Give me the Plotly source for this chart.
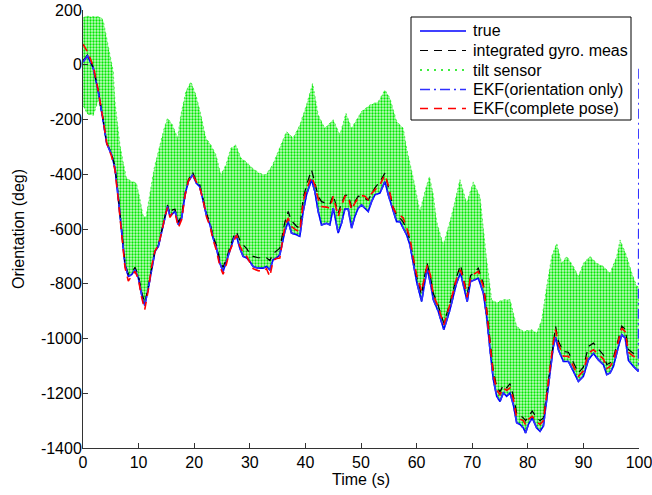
import plotly.graph_objects as go

# ---------------- data ----------------
t_s = [0.0, 0.8, 1.85, 2.75, 3.65, 4.25, 5.15, 5.75, 6.35, 6.95, 7.55, 8.15, 8.75, 9.35, 9.95,
       10.55, 11.1, 11.75, 12.35, 12.95, 13.55, 14.15, 14.75, 15.2, 15.65, 16.1, 16.55, 17.15, 17.75,
       18.35, 18.95, 19.7, 20.4, 21.0, 21.6, 22.25, 22.85, 23.4, 24.0, 24.6, 25.2, 25.8, 26.4, 27.15,
       27.6, 28.2, 28.8, 29.45, 30.0, 30.6, 31.5, 32.4, 33.0, 33.6, 34.2, 34.8, 35.4, 36.3, 36.9,
       37.5, 38.4, 39.0, 39.6, 40.2, 41.1, 41.7, 42.3, 42.9, 43.8, 44.4, 45.0, 45.6, 45.9, 46.5,
       47.1, 47.7, 48.3, 48.9, 49.5, 50.1, 50.7, 51.3, 51.9, 52.5, 53.4, 54.3, 54.9, 55.8, 56.4,
       57.0, 57.6, 58.2, 58.8, 59.4, 60.0, 60.9, 61.3, 61.9, 62.5, 63.0, 63.9, 64.9, 66.0, 67.2,
       67.9, 68.6, 69.1, 69.7, 70.3, 71.1, 72.0, 72.6, 73.2, 73.8, 74.4, 75.0, 75.6, 76.2, 76.8,
       77.4, 78.0, 78.6, 79.2, 79.6, 80.1, 80.8, 81.6, 82.2, 82.8, 83.4, 84.0, 84.6, 85.0, 85.5,
       86.4, 87.3, 88.2, 89.1, 90.0, 90.9, 91.8, 92.7, 93.6, 94.2, 94.8, 95.4, 96.3, 96.9, 97.5,
       98.1, 99.0, 99.9]

true_deg = [10, 33, -13, -98, -208, -287, -329, -378, -487, -621, -731, -773, -767, -749, -779,
            -840, -880, -816, -743, -682, -664, -609, -548, -518, -554, -545, -535, -585, -560,
            -475, -427, -402, -433, -445, -500, -554, -585, -633, -670, -724, -755, -719, -682, -633,
            -625, -670, -700, -706, -719, -737, -743, -743, -737, -749, -712, -706, -694, -609, -573,
            -615, -621, -627, -536, -475, -420, -463, -536, -585, -579, -585, -524, -579, -615, -579,
            -527, -527, -597, -554, -524, -512, -524, -536, -500, -475, -469, -427, -475, -536, -573,
            -573, -597, -621, -658, -731, -792, -865, -810, -745, -800, -858, -901, -968, -895, -797,
            -761, -816, -865, -792, -786, -780, -834, -919, -1041, -1150, -1211, -1230, -1199, -1211, -1199,
            -1242, -1308, -1314, -1327, -1345, -1314, -1290, -1327, -1339, -1320, -1223, -1126, -1029, -995, -1041,
            -1084, -1084, -1120, -1157, -1138, -1078, -1055, -1078, -1096, -1132, -1126, -1102, -1029, -986, -998,
            -1080, -1102, -1120]

gyro_deg = [15, 35, -10, -95, -205, -285, -325, -372, -480, -612, -725, -765, -758, -740, -768,
            -830, -870, -810, -738, -678, -660, -605, -542, -512, -545, -530, -528, -575, -550,
            -470, -420, -392, -425, -438, -490, -545, -578, -625, -660, -712, -740, -708, -668, -625,
            -610, -640, -658, -672, -690, -700, -705, -706, -705, -715, -690, -680, -670, -575, -536,
            -570, -590, -597, -487, -440, -384, -430, -480, -500, -505, -510, -475, -520, -542, -505,
            -478, -475, -520, -500, -480, -482, -490, -495, -470, -450, -427, -396, -445, -520, -550,
            -560, -575, -600, -640, -710, -775, -840, -785, -725, -775, -835, -880, -945, -870, -775,
            -731, -795, -840, -770, -760, -743, -800, -890, -1010, -1120, -1175, -1195, -1170, -1180, -1165,
            -1210, -1272, -1280, -1290, -1300, -1285, -1265, -1290, -1300, -1290, -1195, -1100, -1000, -956, -1010,
            -1047, -1050, -1085, -1125, -1105, -1029, -1017, -1040, -1060, -1095, -1090, -1070, -995, -955, -965,
            -1040, -1055, -1041]

ekf_pose_deg = [75, 48, -5, -95, -205, -285, -335, -385, -495, -630, -740, -790, -772, -755, -782,
                -850, -895, -822, -735, -680, -660, -612, -552, -522, -558, -540, -540, -595, -565,
                -478, -425, -400, -428, -448, -495, -558, -590, -640, -678, -735, -765, -728, -680, -640,
                -622, -662, -685, -700, -722, -745, -752, -755, -745, -774, -715, -708, -706, -590, -560,
                -591, -605, -609, -500, -455, -408, -440, -490, -518, -520, -524, -481, -530, -554, -515,
                -481, -481, -530, -505, -487, -478, -480, -493, -470, -457, -439, -402, -440, -525, -545,
                -550, -560, -595, -633, -705, -767, -828, -790, -731, -770, -840, -885, -950, -875, -780,
                -749, -800, -850, -775, -765, -755, -810, -900, -1020, -1130, -1187, -1205, -1180, -1190, -1180,
                -1220, -1290, -1296, -1300, -1315, -1295, -1284, -1305, -1314, -1300, -1205, -1108, -1010, -968, -1020,
                -1065, -1065, -1102, -1138, -1118, -1053, -1041, -1058, -1075, -1110, -1102, -1082, -1005, -962, -975,
                -1050, -1065, -1071]

# EKF (orientation only) lies on top of the true curve, then jumps at t = 100 s
ekf_orient_t = t_s + [100.0]
ekf_orient_deg = true_deg + [-10]

# tilt sensor: extent of the dense noisy band (upper edge, lower edge)
tilt_up_t = [0.0, 0.5, 1.5, 2.5, 3.3, 3.65, 4.25, 4.85, 5.45, 5.75, 6.65, 7.2, 7.8, 8.7, 9.6,
             10.2, 10.75, 11.3, 11.9, 12.8, 13.7, 14.6, 15.2, 16.1, 17.0, 17.6, 18.5, 19.4, 20.3,
             21.2, 22.1, 23.0, 23.9, 24.8, 25.7, 26.6, 27.5, 28.4, 29.3, 30.5, 31.7, 32.9, 34.1,
             35.4, 36.6, 37.8, 39.0, 40.2, 41.3, 42.3, 43.5, 45.0, 46.2, 47.3, 48.3, 50.1, 51.6,
             53.1, 54.3, 55.2, 56.4, 57.6, 58.2, 59.4, 60.6, 61.5, 62.3, 63.0, 63.6, 64.8, 66.3,
             67.8, 69.0, 70.2, 71.4, 72.6, 73.5, 74.4, 75.6, 76.8, 78.0, 79.2, 80.7, 81.6, 82.5,
             83.4, 84.3, 85.2, 86.1, 87.0, 88.2, 89.1, 90.0, 91.2, 92.4, 93.6, 94.8, 96.0, 96.6,
             97.8, 98.7, 99.6, 99.9]
tilt_up_deg = [170, 178, 175, 176, 172, 160, 98, 36, -25, -135, -293, -354, -414, -426, -432,
               -487, -548, -560, -487, -378, -305, -232, -195, -220, -268, -183, -98, -62, -110,
               -183, -268, -293, -329, -402, -366, -305, -293, -341, -354, -378, -396, -402, -366,
               -305, -244, -268, -220, -147, -68, -183, -232, -201, -256, -177, -232, -171, -147,
               -135, -92, -122, -207, -232, -305, -414, -536, -463, -408, -475, -573, -658, -550,
               -420, -505, -428, -481, -712, -858, -869, -858, -858, -956, -974, -968, -980, -932,
               -810, -700, -652, -725, -700, -737, -773, -725, -700, -725, -737, -761, -700, -640,
               -700, -761, -810, -810]
tilt_low_head = [-150, -180, -185, -130]
tilt_low_deg = tilt_low_head + true_deg[len(tilt_low_head):]

x_ticks = [0, 10, 20, 30, 40, 50, 60, 70, 80, 90, 100]
y_ticks = [200, 0, -200, -400, -600, -800, -1000, -1200, -1400]
y_tick_text = ["200", "0", "-200", "-400", "-600", "-800", "-1000", "-1200", "-1400"]

series_names = ["true", "integrated gyro. meas", "tilt sensor",
                "EKF(orientation only)", "EKF(complete pose)"]

# ---------------- styles ----------------
FONT = "Liberation Sans, Arial, sans-serif"
FS = 16
GREEN = "#00e600"
styles = [
    dict(color="#0000ff", width=1.6, dash="solid"),
    dict(color="black", width=1.2, dash="8px,6px"),
    dict(color=GREEN, width=1.4, dash="2px,5px"),
    dict(color="#3030ff", width=1.6, dash="10px,4px,2px,4px"),
    dict(color="#ff0000", width=1.6, dash="8px,6px"),
]

W, H = 652, 495
ML, MR, MT, MB = 83, 13, 10, 47
PW, PH = W - ML - MR, H - MT - MB


def px_x(p):  # pixel -> paper x
    return (p - ML) / PW


def px_y(p):  # pixel -> paper y
    return 1 - (p - MT) / PH


fig = go.Figure()

# tilt sensor band (dense dotted measurements)
fig.add_trace(go.Scatter(
    x=tilt_up_t + t_s[::-1], y=tilt_up_deg + tilt_low_deg[::-1],
    mode="lines", fill="toself", line=dict(width=0.8, color="#33ee33", dash="2px,3px"),
    fillcolor="#b8f9b8",
    fillpattern=dict(shape=".", fgcolor="#00e800", bgcolor="#c4fbc4", size=3,
                     solidity=0.45, fillmode="replace"),
    name=series_names[2], showlegend=False, hoverinfo="skip"))

fig.add_trace(go.Scatter(x=t_s, y=true_deg, mode="lines", name=series_names[0],
                         showlegend=False, line=styles[0]))
fig.add_trace(go.Scatter(x=t_s, y=gyro_deg, mode="lines", name=series_names[1],
                         showlegend=False, line=styles[1]))
fig.add_trace(go.Scatter(x=ekf_orient_t, y=ekf_orient_deg, mode="lines", name=series_names[3],
                         showlegend=False, line=styles[3]))
fig.add_trace(go.Scatter(x=t_s, y=ekf_pose_deg, mode="lines", name=series_names[4],
                         showlegend=False, line=styles[4]))

# ---------------- legend box (drawn to match MATLAB layout) ----------------
shapes = [dict(type="rect", xref="paper", yref="paper",
               x0=px_x(411), x1=px_x(631), y0=px_y(120), y1=px_y(17),
               line=dict(color="black", width=1), fillcolor="white", layer="above")]
annotations = []
row_y = [31, 50.5, 70, 89.5, 108.5]
for name, st, ry in zip(series_names, styles, row_y):
    shapes.append(dict(type="line", xref="paper", yref="paper",
                       x0=px_x(420), x1=px_x(466), y0=px_y(ry), y1=px_y(ry),
                       line=dict(color=st["color"], width=st["width"], dash=st["dash"]),
                       layer="above"))
    annotations.append(dict(text=name, xref="paper", yref="paper", x=px_x(471), y=px_y(ry),
                            xanchor="left", yanchor="middle", showarrow=False,
                            font=dict(family=FONT, size=FS, color="black")))

axis_common = dict(showgrid=False, zeroline=False, showline=True, linecolor="#333333", linewidth=1,
                   ticks="inside", ticklen=5, tickcolor="#333333", tickwidth=1, automargin=False,
                   ticklabeloverflow="allow",
                   tickfont=dict(family=FONT, size=FS, color="black"), mirror=False)

fig.update_layout(
    width=W, height=H,
    margin=dict(l=ML, r=MR, t=MT, b=MB),
    paper_bgcolor="white", plot_bgcolor="white",
    font=dict(family=FONT, size=FS, color="black"),
    xaxis=dict(range=[0, 100], tickvals=x_ticks,
               title=dict(text="Time (s)", font=dict(family=FONT, size=FS), standoff=2),
               **axis_common),
    yaxis=dict(range=[-1400, 200], tickvals=y_ticks, ticktext=y_tick_text, ticklabelstandoff=-3,
               title=dict(text="Orientation (deg)", font=dict(family=FONT, size=FS), standoff=12),
               **axis_common),
    shapes=shapes,
    annotations=annotations,
    showlegend=False,
)

fig.write_html("out.html")
